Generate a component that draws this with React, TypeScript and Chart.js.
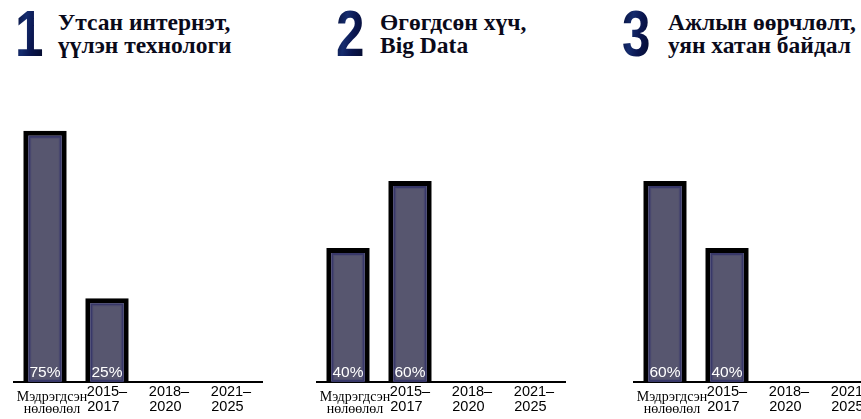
import React, { useEffect, useRef } from "react";
import { Chart, registerables } from "chart.js";

Chart.register(...registerables);

// ---- data ----
const categories: string[][] = [
  ["\u2003Мэдрэгдсэн", "\u2003нөлөөлөл"],
  ["2015–", "2017\u2002"],
  ["2018–", "2020\u2002"],
  ["2021–", "2025\u2002"],
];
const internetValues: (number | null)[] = [75, 25, null, null];
const bigDataValues: (number | null)[] = [40, 60, null, null];
const workValues: (number | null)[] = [60, 40, null, null];
const panelNumbers = ["1", "2", "3"];
const panelTitles: string[][] = [
  ["Утсан интернэт,", "үүлэн технологи"],
  ["Өгөгдсөн хүч,", "Big Data"],
  ["Ажлын өөрчлөлт,", "уян хатан байдал"],
];
const yMax = 80;

// ---- layout ----
const PAD = 30;
const AREA_W = 248;
const CANVAS_W = AREA_W + PAD * 2;
const CANVAS_TOP = 114;
const TICK_PAD = 10;
const SANS_LH = 15;
const SERIF_LH = 12.5;
const CANVAS_H = 268 + SANS_LH * 2 + TICK_PAD * 2;

const SANS = '"Liberation Sans", Arial, Helvetica, sans-serif';
const SERIF = '"Liberation Serif", "Times New Roman", Times, serif';

const panels = [
  { values: internetValues, axisLeft: 14, numLeft: 15, titleLeft: 58 },
  { values: bigDataValues, axisLeft: 317, numLeft: 336, titleLeft: 380 },
  { values: workValues, axisLeft: 633.5, numLeft: 621.5, titleLeft: 668 },
];

const barDecor = {
  id: "barDecor",
  afterDatasetsDraw(chart: any) {
    const ctx = chart.ctx;
    const meta = chart.getDatasetMeta(0);
    const data = chart.data.datasets[0].data;
    ctx.save();
    meta.data.forEach((bar: any, i: number) => {
      const v = data[i];
      if (v == null) return;
      const p = bar.getProps(["x", "y", "base", "width"], true);
      const l = p.x - p.width / 2 + 5;
      const r = p.x + p.width / 2 - 5;
      const t = p.y + 5;
      const b = p.base;
      ctx.strokeStyle = "rgba(25,25,100,0.5)";
      ctx.lineWidth = 2;
      ctx.strokeRect(l + 1, t + 1, r - l - 2, b - t - 2);
      ctx.strokeStyle = "rgba(60,60,110,0.3)";
      ctx.lineWidth = 1;
      ctx.strokeRect(l + 2.5, t + 2.5, r - l - 5, b - t - 5);
    });
    ctx.font = `15.5px ${SANS}`;
    ctx.fillStyle = "#ffffff";
    ctx.textAlign = "center";
    ctx.textBaseline = "alphabetic";
    meta.data.forEach((bar: any, i: number) => {
      const v = data[i];
      if (v == null) return;
      const p = bar.getProps(["x", "base"], true);
      ctx.fillText(`${v}%`, p.x, p.base - 5);
    });
    ctx.restore();
  },
};

function BarPanel({ values, axisLeft }: { values: (number | null)[]; axisLeft: number }) {
  const ref = useRef<HTMLCanvasElement | null>(null);
  useEffect(() => {
    if (!ref.current) return;
    const chart = new Chart(ref.current, {
      type: "bar",
      data: {
        labels: categories,
        datasets: [
          {
            data: values,
            backgroundColor: "#57566f",
            borderColor: "#000000",
            borderWidth: 5,
            borderSkipped: "bottom",
            barPercentage: 0.7,
            categoryPercentage: 1,
          },
        ],
      },
      options: {
        responsive: false,
        animation: false,
        layout: { padding: { left: PAD, right: PAD, top: 0, bottom: 0 } },
        plugins: { legend: { display: false }, tooltip: { enabled: false } },
        scales: {
          x: {
            z: 1,
            grid: { display: false, drawTicks: false },
            border: { display: true, color: "#000000", width: 2 },
            ticks: {
              color: "#000000",
              padding: TICK_PAD,
              maxRotation: 0,
              autoSkip: false,
              crossAlign: "far",
              font: (c: any) =>
                c.index === 0
                  ? { family: SERIF, size: 14, lineHeight: `${SERIF_LH}px` }
                  : { family: SANS, size: 14.5, lineHeight: `${SANS_LH}px` },
            },
          },
          y: { display: false, min: 0, max: yMax },
        },
      } as any,
      plugins: [barDecor],
    });
    return () => chart.destroy();
  }, [values]);
  return (
    <canvas
      ref={ref}
      width={CANVAS_W}
      height={CANVAS_H}
      style={{
        position: "absolute",
        left: axisLeft - PAD,
        top: CANVAS_TOP,
        width: CANVAS_W,
        height: CANVAS_H,
      }}
    />
  );
}

export default function App() {
  return (
    <div
      style={{
        position: "fixed",
        left: 0,
        top: 0,
        width: 861,
        height: 419,
        overflow: "hidden",
        background: "#ffffff",
      }}
    >
      {panels.map((p, i) => (
        <React.Fragment key={i}>
          <div
            style={{
              position: "absolute",
              left: p.numLeft,
              top: 2,
              fontFamily: SANS,
              fontWeight: 700,
              fontSize: 64,
              lineHeight: "64px",
              transform: "scaleX(0.8)",
              transformOrigin: "left top",
              background:
                "linear-gradient(100deg, #050c35 0%, #152c6e 35%, #0a1650 60%, #040a2a 100%)",
              WebkitBackgroundClip: "text",
              backgroundClip: "text",
              color: "transparent",
            }}
          >
            {panelNumbers[i]}
          </div>
          <div
            style={{
              position: "absolute",
              left: p.titleLeft,
              top: 11,
              fontFamily: SERIF,
              fontWeight: 700,
              fontSize: 23.5,
              lineHeight: "23px",
              color: "#0a0a1a",
              whiteSpace: "nowrap",
            }}
          >
            {panelTitles[i][0]}
            <br />
            {panelTitles[i][1]}
          </div>
          <BarPanel values={p.values} axisLeft={p.axisLeft} />
        </React.Fragment>
      ))}
    </div>
  );
}
